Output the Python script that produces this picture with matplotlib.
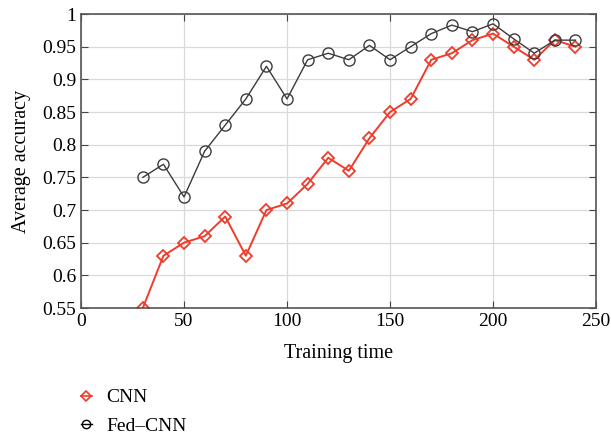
import matplotlib.pyplot as plt
import numpy as np
from matplotlib.lines import Line2D

plt.rcParams['font.family'] = ['Liberation Serif', 'DejaVu Serif']

training_time = [30, 40, 50, 60, 70, 80, 90, 100, 110, 120, 130,
                 140, 150, 160, 170, 180, 190, 200, 210, 220, 230, 240]
cnn_acc = [0.55, 0.63, 0.65, 0.66, 0.69, 0.63, 0.70, 0.71, 0.74, 0.78, 0.76,
           0.81, 0.85, 0.87, 0.93, 0.94, 0.96, 0.97, 0.95, 0.93, 0.96, 0.95]
fed_cnn_acc = [0.75, 0.77, 0.72, 0.79, 0.83, 0.87, 0.92, 0.87, 0.93, 0.94, 0.93,
               0.952, 0.93, 0.95, 0.97, 0.983, 0.973, 0.985, 0.962, 0.94, 0.96, 0.96]

red = '#f03c2c'
dark = '#3c3c3c'

fig = plt.figure(figsize=(6.11, 4.34), dpi=100)
ax = fig.add_axes([0.1326, 0.2903, 0.843, 0.6774])

ax.plot(training_time, cnn_acc, color=red, lw=1.4, marker='D',
        markersize=6.5, markerfacecolor='none', markeredgewidth=1.3)
ax.plot(training_time, fed_cnn_acc, color=dark, lw=1.0, marker='o',
        markersize=8, markerfacecolor='none', markeredgewidth=1.0)

ax.set_xlim(0, 250)
ax.set_ylim(0.55, 1.0)
ax.set_xticks(np.arange(0, 251, 50))
ax.set_yticks(np.arange(0.55, 1.001, 0.05))
ax.set_yticklabels(['0.55', '0.6', '0.65', '0.7', '0.75', '0.8', '0.85', '0.9', '0.95', '1'])
ax.grid(True, color='#d9d9d9', lw=0.9)
ax.set_axisbelow(True)
ax.tick_params(direction='in', top=True, right=True, labelsize=14, colors='#444444',
               labelcolor='black', length=5)
for s in ax.spines.values():
    s.set_color('#555555')
    s.set_linewidth(1.2)
ax.set_xlabel('Training time', fontsize=14.5, labelpad=10)
ax.set_ylabel('Average accuracy', fontsize=14.5, labelpad=8)

# small legend handles: short line through the marker
h1 = Line2D([], [], color=red, lw=1.2, marker='D', markersize=5,
            markerfacecolor='none', markeredgewidth=1.2)
h2 = Line2D([], [], color='black', lw=1.0, marker='o', markersize=6,
            markerfacecolor='none', markeredgewidth=1.0)
fig.legend(handles=[h1, h2], labels=['CNN', 'Fed\u2013CNN'], loc='upper left',
           bbox_to_anchor=(0.12, 0.122), frameon=False, fontsize=14,
           handlelength=0.55, handletextpad=0.75, labelspacing=0.55, borderaxespad=0)

fig.savefig('out.png', dpi=100)
